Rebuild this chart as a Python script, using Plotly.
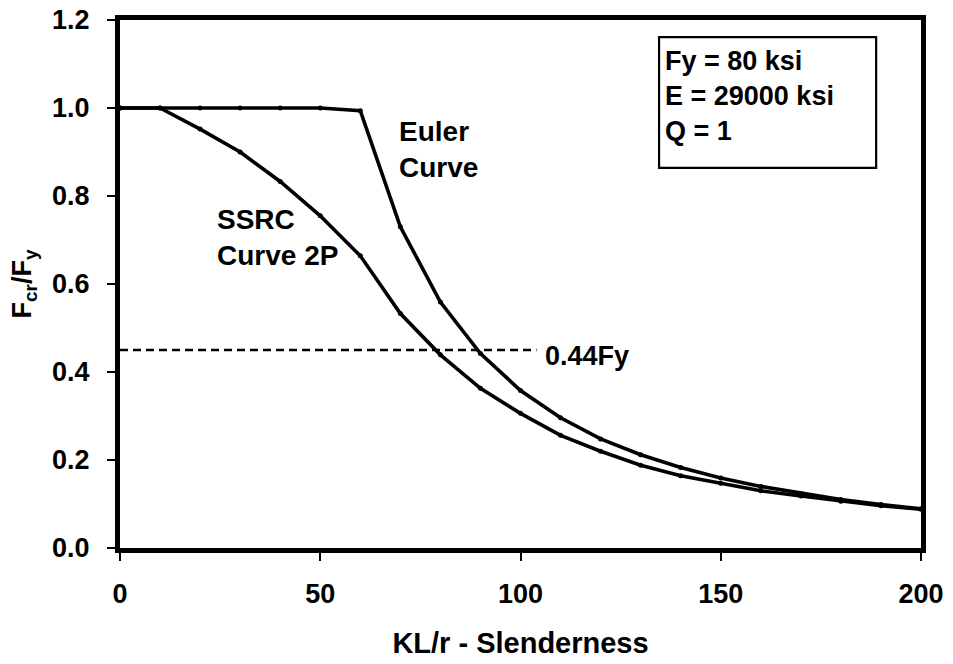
import plotly.graph_objects as go

# Data
slenderness = [0, 10, 20, 30, 40, 50, 60, 70, 80, 90, 100, 110, 120, 130, 140, 150, 160, 170, 180, 190, 200]
euler_curve = [1.0, 1.0, 1.0, 1.0, 1.0, 1.0, 0.994, 0.730, 0.559, 0.442, 0.358, 0.296, 0.248, 0.212,
               0.183, 0.159, 0.140, 0.124, 0.110, 0.099, 0.089]
ssrc_curve_2p = [1.0, 1.0, 0.952, 0.900, 0.833, 0.755, 0.664, 0.533, 0.439, 0.363, 0.306, 0.256, 0.220,
                 0.188, 0.164, 0.147, 0.130, 0.118, 0.106, 0.096, 0.088]
limit_x = [0, 104]
limit_y = [0.45, 0.45]

x_ticks = [0, 50, 100, 150, 200]
y_ticks = [0.0, 0.2, 0.4, 0.6, 0.8, 1.0, 1.2]

FONT = "Liberation Sans, Arial, sans-serif"
FS = 27

fig = go.Figure()
fig.add_trace(go.Scatter(x=slenderness, y=euler_curve, mode="lines+markers",
                         line=dict(color="black", width=3.6),
                         marker=dict(color="black", size=5, symbol="circle"),
                         name="Euler Curve", showlegend=False))
fig.add_trace(go.Scatter(x=slenderness, y=ssrc_curve_2p, mode="lines+markers",
                         line=dict(color="black", width=3.6),
                         marker=dict(color="black", size=5, symbol="circle"),
                         name="SSRC Curve 2P", showlegend=False))
fig.add_trace(go.Scatter(x=limit_x, y=limit_y, mode="lines",
                         line=dict(color="black", width=2.4, dash="8px,5px"),
                         name="0.44Fy", showlegend=False))

txt = dict(family=FONT, size=FS, color="black", weight="bold")
lbl = dict(family=FONT, size=28, color="black", weight="bold")

fig.add_annotation(x=69.2, y=0.906, xref="x", yref="y", text="Euler<br>Curve",
                   showarrow=False, xanchor="left", yanchor="middle", align="left", font=lbl)
fig.add_annotation(x=23.7, y=0.706, xref="x", yref="y", text="SSRC<br>Curve 2P",
                   showarrow=False, xanchor="left", yanchor="middle", align="left", font=lbl)
fig.add_annotation(x=105.5, y=0.436, xref="x", yref="y", text="0.44Fy",
                   showarrow=False, xanchor="left", yanchor="middle", align="left", font=txt)
fig.add_annotation(x=135.6, y=1.027, xref="x", yref="y", text="Fy = 80 ksi<br>E = 29000 ksi<br>Q = 1",
                   showarrow=False, xanchor="left", yanchor="middle", align="left", font=txt)
fig.add_shape(type="rect", xref="x", yref="y", x0=134.6, x1=188.8, y0=0.864, y1=1.161,
              line=dict(color="black", width=2.2), fillcolor="rgba(0,0,0,0)")

axis_common = dict(showline=True, linecolor="black", linewidth=5, mirror=True,
                   showgrid=False, zeroline=False, ticks="outside", ticklen=8,
                   tickwidth=1.5, tickcolor="black", ticklabeloverflow="allow",
                   tickfont=dict(family=FONT, size=FS, color="black", weight="bold"))

fig.update_xaxes(range=[0, 200], tickvals=x_ticks, ticktext=[str(v) for v in x_ticks],
                 ticklabelstandoff=10,
                 title=dict(text="KL/r - Slenderness", standoff=26,
                            font=dict(family=FONT, size=29, color="black", weight="bold")),
                 **axis_common)
fig.update_yaxes(range=[0, 1.2], tickvals=y_ticks, ticktext=[f"{v:.1f}" for v in y_ticks],
                 ticklabelstandoff=12,
                 title=dict(text="F<sub>cr</sub>/F<sub>y</sub>", standoff=14,
                            font=dict(family=FONT, size=FS, color="black", weight="bold")),
                 **axis_common)

fig.update_layout(width=953, height=664, margin=dict(l=120, r=32, t=20, b=116, autoexpand=False),
                  plot_bgcolor="white", paper_bgcolor="white")

# remove the default 8px page margin so the figure sits at the window's top-left corner
fig.write_html("out.html", config={"displayModeBar": False},
               post_script="document.body.style.margin='0';")
